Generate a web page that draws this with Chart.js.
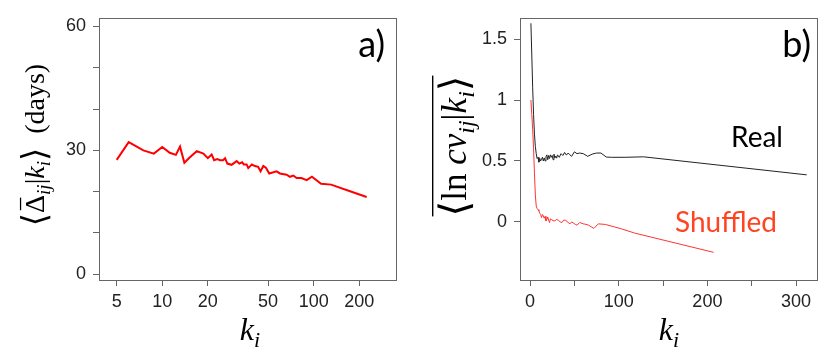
<!DOCTYPE html>
<html>
<head>
<meta charset="utf-8">
<script src="https://cdn.jsdelivr.net/npm/chart.js@4/dist/chart.umd.min.js"></script>
<style>
  body { margin: 0; background: #fff; }
  .panel { position: absolute; top: 0; width: 415px; height: 361px; }
  #panelA { left: 0; }
  #panelB { left: 415px; }
</style>
</head>
<body>
<div class="panel" id="panelA"><canvas id="chartA" width="415" height="361"></canvas></div>
<div class="panel" id="panelB"><canvas id="chartB" width="415" height="361"></canvas></div>
<script>
// panel a) mean inter-event time vs degree (log x)
const degreeA = [5, 6, 7.5, 8.8, 10, 11.2, 12.3, 13.1, 14, 15.1, 16.9, 18.7, 20, 21.2, 22, 23.1, 24.1, 25.2, 26, 26.9,
  28.7, 31, 32.3, 33.7, 34.6, 36.1, 37, 39.1, 40.9, 43, 44.6, 46.5, 48.4, 50.9, 56.9, 59.9, 66.3, 69.7, 73.4, 77.2,
  83, 89.9, 97.4, 112, 130.5, 174, 224];
const delayA = [27.7, 32.0, 30.0, 29.2, 30.8, 29.4, 28.9, 30.9, 27.0, 28.2, 29.8, 29.2, 28.1, 29.0, 27.6, 27.9, 27.6, 27.6, 28.1, 26.8,
  26.5, 27.4, 26.8, 27.1, 26.6, 26.6, 25.7, 26.6, 26.2, 26.0, 24.9, 26.2, 25.8, 24.4, 24.9, 24.4, 24.1, 23.6, 23.9, 23.3,
  23.3, 22.8, 23.6, 21.9, 21.7, 20.1, 18.7];
const xTicksA = [5, 10, 20, 50, 100, 200];
const yTicksA = [0, 10, 20, 30, 40, 50, 60];
const yLabelsA = [0, 30, 60];

// panel b) mean log cv vs degree, real and shuffled
const degreeReal = [1, 2, 3, 4, 5, 6, 7, 8, 9, 10, 11, 12, 13, 14, 15, 16, 17, 18, 19, 20, 21, 22, 23, 24, 25, 26, 27, 28, 29, 30,
  31, 33, 35, 37, 39, 41, 43, 45, 47, 50, 53, 56, 60, 65, 70, 75, 80, 86, 92, 107, 128, 312];
const cvReal = [1.63, 1.37, 1.1, 0.88, 0.72, 0.62, 0.56, 0.52, 0.53, 0.49, 0.52, 0.50, 0.515, 0.53, 0.50, 0.525, 0.50, 0.535, 0.55, 0.51,
  0.545, 0.52, 0.55, 0.53, 0.545, 0.51, 0.556, 0.525, 0.54, 0.523, 0.55, 0.53, 0.56, 0.545, 0.57, 0.548, 0.565, 0.55, 0.538, 0.575,
  0.56, 0.565, 0.56, 0.538, 0.556, 0.565, 0.565, 0.532, 0.53, 0.53, 0.534, 0.386];
const degreeShuf = [1, 2, 3, 4, 5, 6, 7, 8, 9, 10, 11, 12, 13, 14, 15, 16, 17, 18, 19, 20, 21, 22, 23, 24, 26, 28, 30, 32, 34, 36,
  38, 40, 43, 45, 47, 49, 51, 53, 56, 60, 63, 66, 69, 72, 77, 85, 103, 118, 207];
const cvShuf = [1.0, 0.88, 0.76, 0.6, 0.4, 0.22, 0.13, 0.11, 0.10, 0.09, 0.07, 0.06, 0.035, 0.06, 0.05, 0.03, 0.045, 0.008, 0.02, 0.04,
  0.015, -0.005, 0.025, 0.02, 0.01, 0.008, 0.02, 0.013, 0.0, -0.005, 0.015, 0.013, -0.005, -0.016, 0.0, -0.01, -0.02, -0.027, -0.005, -0.016,
  -0.02, -0.027, -0.04, -0.054, -0.016, -0.021, -0.057, -0.092, -0.25];
const xTicksB = [0, 50, 100, 150, 200, 250, 300];
const xLabelsB = [0, 100, 200, 300];
const yTicksB = [0, 0.5, 1, 1.5];

const SERIF = "'Liberation Serif', 'DejaVu Serif', serif";
const SANS = "'Liberation Sans', Arial, sans-serif";
const LABEL_FONT = "Lato, 'Open Sans', sans-serif";

Chart.defaults.font.family = SANS;

function points(xs, ys) {
  return xs.map((x, i) => ({ x: x, y: ys[i] }));
}

function axis(extra) {
  return Object.assign({
    border: { display: false },
    grid: { drawOnChartArea: false, drawTicks: true, tickLength: 6, color: '#666' }
  }, extra);
}

// draws a math label centred on the origin, baseline at y = 0
function drawMath(ctx, parts, size) {
  let total = 0;
  const fonts = parts.map(p => {
    const s = p.sub ? 0.68 : (p.big || 1);
    return `${p.italic ? 'italic ' : ''}${Math.round(size * s)}px ${SERIF}`;
  });
  const widths = parts.map((p, i) => {
    ctx.font = fonts[i];
    const w = ctx.measureText(p.text).width;
    total += w;
    return w;
  });
  let x = -total / 2;
  parts.forEach((p, i) => {
    ctx.font = fonts[i];
    let dy = 0;
    if (p.sub) dy = size * 0.22;
    if (p.big) dy = size * (p.big - 1) * 0.3;
    ctx.fillText(p.text, x, dy);
    if (p.bar) ctx.fillRect(x + widths[i] * 0.15, -size * 0.86, widths[i] * 0.7, size * 0.045);
    x += widths[i];
  });
  return total;
}

function frame(ctx, area) {
  ctx.save();
  ctx.strokeStyle = '#666';
  ctx.lineWidth = 1;
  ctx.strokeRect(Math.round(area.left) + 0.5, Math.round(area.top) + 0.5,
    Math.round(area.right - area.left), Math.round(area.bottom - area.top));
  ctx.restore();
}

const extrasA = {
  id: 'extrasA',
  afterDraw(chart) {
    const ctx = chart.ctx;
    frame(ctx, chart.chartArea);
    ctx.save();
    ctx.fillStyle = '#000';
    ctx.textBaseline = 'alphabetic';
    // y title
    ctx.save();
    ctx.translate(44, 145);
    ctx.rotate(-Math.PI / 2);
    drawMath(ctx, [
      { text: '⟨', big: 1.2 }, { text: 'Δ', bar: true }, { text: 'ij', italic: true, sub: true }, { text: '|' },
      { text: 'k', italic: true }, { text: 'i', italic: true, sub: true }, { text: '⟩', big: 1.2 }, { text: '  (days)' }
    ], 28);
    ctx.restore();
    // x title
    ctx.save();
    ctx.translate(250, 340);
    drawMath(ctx, [{ text: 'k', italic: true }, { text: 'i', italic: true, sub: true }], 32);
    ctx.restore();
    ctx.font = `36px ${LABEL_FONT}`;
    ctx.textAlign = 'right';
    ctx.fillText('a)', 385, 57);
    ctx.restore();
  }
};

const extrasB = {
  id: 'extrasB',
  afterDraw(chart) {
    const ctx = chart.ctx;
    frame(ctx, chart.chartArea);
    ctx.save();
    ctx.fillStyle = '#000';
    ctx.save();
    ctx.translate(51, 146);
    ctx.rotate(-Math.PI / 2);
    const w = drawMath(ctx, [
      { text: '⟨', big: 1.15 }, { text: 'ln' }, { text: ' ' }, { text: 'cv', italic: true }, { text: 'ij', italic: true, sub: true },
      { text: '|' }, { text: 'k', italic: true }, { text: 'i', italic: true, sub: true }, { text: '⟩', big: 1.15 }
    ], 35);
    ctx.fillRect(-w / 2, -34, w, 1.4);
    ctx.restore();
    ctx.save();
    ctx.translate(254, 340);
    drawMath(ctx, [{ text: 'k', italic: true }, { text: 'i', italic: true, sub: true }], 32);
    ctx.restore();
    ctx.font = `36px ${LABEL_FONT}`;
    ctx.textAlign = 'right';
    ctx.fillText('b)', 396, 57);
    ctx.textAlign = 'left';
    ctx.font = `28px ${LABEL_FONT}`;
    ctx.fillText('Real', 316, 147);
    ctx.fillStyle = '#ff4422';
    ctx.fillText('Shuffled', 260, 232);
    ctx.restore();
  }
};

new Chart(document.getElementById('chartA'), {
  type: 'line',
  data: {
    datasets: [{
      data: points(degreeA, delayA),
      borderColor: '#ff0000',
      borderWidth: 2,
      pointRadius: 0,
      tension: 0
    }]
  },
  options: {
    responsive: false,
    animation: false,
    layout: { padding: { top: 14, right: 19, left: 0, bottom: 0 } },
    plugins: { legend: { display: false }, tooltip: { enabled: false } },
    scales: {
      x: axis({
        type: 'logarithmic', min: 3.82, max: 350,
        afterBuildTicks: s => { s.ticks = xTicksA.map(v => ({ value: v })); },
        afterFit: s => { s.height = 81; },
        ticks: { color: '#222', font: { size: 18 }, autoSkip: false, maxRotation: 0, padding: 5, callback: v => String(v) }
      }),
      y: axis({
        type: 'linear', min: -1.4, max: 62.1,
        afterBuildTicks: s => { s.ticks = yTicksA.map(v => ({ value: v })); },
        afterFit: s => { s.width = 99; },
        ticks: { color: '#222', font: { size: 18 }, autoSkip: false, padding: 7,
          callback: v => yLabelsA.includes(v) ? String(v) : '' }
      })
    }
  },
  plugins: [extrasA]
});

new Chart(document.getElementById('chartB'), {
  type: 'line',
  data: {
    datasets: [{
      data: points(degreeReal, cvReal),
      borderColor: '#222',
      borderWidth: 1,
      pointRadius: 0,
      tension: 0
    }, {
      data: points(degreeShuf, cvShuf),
      borderColor: '#ff3333',
      borderWidth: 1,
      pointRadius: 0,
      tension: 0
    }]
  },
  options: {
    responsive: false,
    animation: false,
    layout: { padding: { top: 14, right: 13, left: 0, bottom: 0 } },
    plugins: { legend: { display: false }, tooltip: { enabled: false } },
    scales: {
      x: axis({
        type: 'linear', min: -11.3, max: 323.6,
        afterBuildTicks: s => { s.ticks = xTicksB.map(v => ({ value: v })); },
        afterFit: s => { s.height = 81; },
        ticks: { color: '#222', font: { size: 18 }, autoSkip: false, maxRotation: 0, padding: 5,
          callback: v => xLabelsB.includes(v) ? String(v) : '' }
      }),
      y: axis({
        type: 'linear', min: -0.477, max: 1.675,
        afterBuildTicks: s => { s.ticks = yTicksB.map(v => ({ value: v })); },
        afterFit: s => { s.width = 105; },
        ticks: { color: '#222', font: { size: 18 }, autoSkip: false, padding: 7, callback: v => String(v) }
      })
    }
  },
  plugins: [extrasB]
});
</script>
</body>
</html>
